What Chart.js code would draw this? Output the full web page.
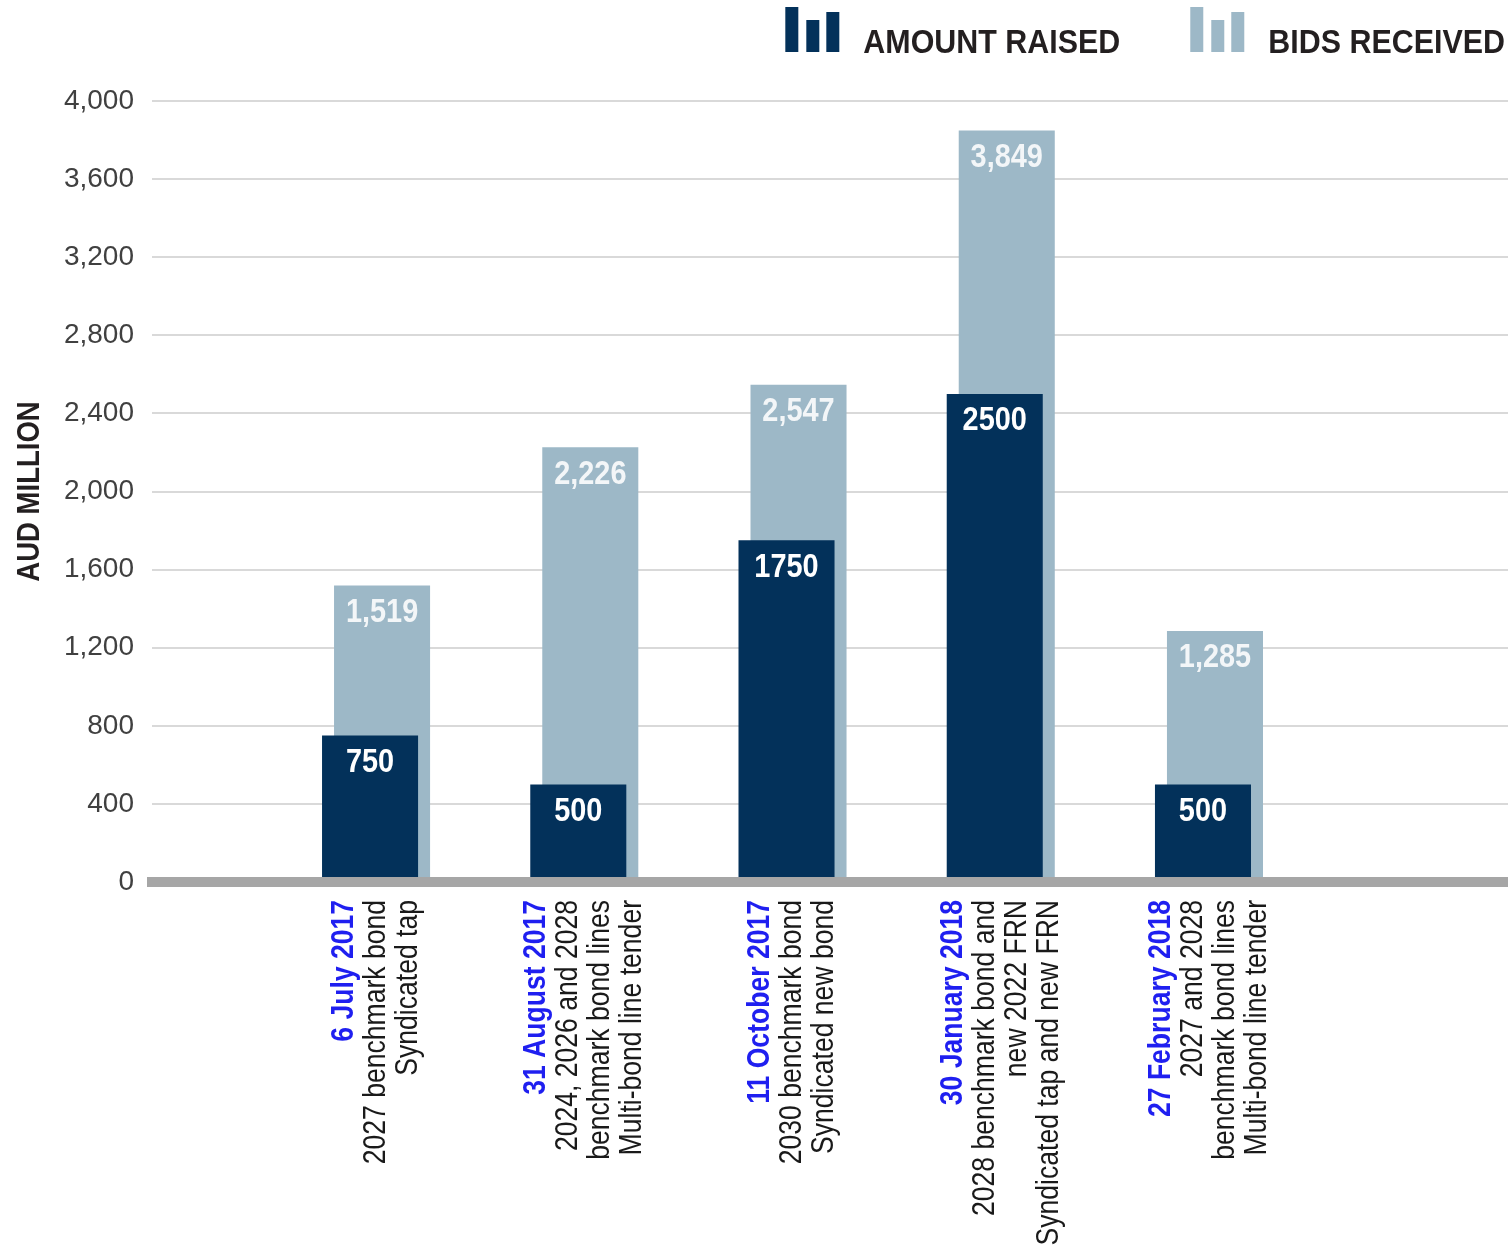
<!DOCTYPE html>
<html lang="en">
<head>
<meta charset="utf-8">
<title>Syndicated and tender issuance – amount raised and bids received</title>
<script src="https://cdn.jsdelivr.net/npm/chart.js@4.4.1/dist/chart.umd.min.js"></script>
<style>
  html, body { margin: 0; padding: 0; background: #ffffff; }
  #wrap { width: 1508px; height: 1245px; }
</style>
</head>
<body>
<div id="wrap"><canvas id="issuance" width="1508" height="1245"></canvas></div>
<script>
// Transactions: issue date and description lines
const issueDates = ['6 July 2017', '31 August 2017', '11 October 2017', '30 January 2018', '27 February 2018'];
const issueDescriptions = [
  ['2027 benchmark bond', 'Syndicated tap'],
  ['2024, 2026 and 2028', 'benchmark bond lines', 'Multi-bond line tender'],
  ['2030 benchmark bond', 'Syndicated new bond'],
  ['2028 benchmark bond and', 'new 2022 FRN', 'Syndicated tap and new FRN'],
  ['2027 and 2028', 'benchmark bond lines', 'Multi-bond line tender']
];

// AUD million
const amountRaised = [750, 500, 1750, 2500, 500];
const bidsReceived = [1519, 2226, 2547, 3849, 1285];

// Value axis
const yMax = 4000;
const yTickStep = 400;
const yTitle = 'AUD MILLION';

const SANS = '"Liberation Sans", Arial, sans-serif';
const DARK = '#03315a';
const LIGHT = '#9db8c7';

// Narrow lettering: regular sans squeezed horizontally along the text direction
function condensedText(ctx, text, x, y, sx) {
  ctx.save();
  ctx.translate(x, y);
  ctx.scale(sx, 1);
  ctx.fillText(text, 0, 0);
  ctx.restore();
}

// Value printed inside the top of each bar
const barValueLabels = {
  id: 'barValueLabels',
  afterDatasetsDraw(chart) {
    const { ctx } = chart;
    chart.data.datasets.forEach((ds, di) => {
      const meta = chart.getDatasetMeta(di);
      meta.data.forEach((bar, i) => {
        const v = ds.data[i].y;
        const text = ds.groupDigits ? v.toLocaleString('en-US') : String(v);
        ctx.save();
        ctx.font = 'bold 34px ' + SANS;
        ctx.fillStyle = ds.valueColor;
        ctx.textAlign = 'center';
        ctx.textBaseline = 'middle';
        condensedText(ctx, text, bar.x, bar.y + 27, 0.85);
        ctx.restore();
      });
    });
  }
};

// Rotated category labels: blue date line followed by the description lines
const issueLabels = {
  id: 'issueLabels',
  afterDraw(chart) {
    const { ctx, chartArea } = chart;
    const x = chart.scales.x;
    const lineStep = 32;
    const topY = chartArea.bottom + 18;
    issueDates.forEach((date, i) => {
      const lines = [date, ...issueDescriptions[i]];
      const cx = x.getPixelForValue(i);
      ctx.save();
      ctx.translate(cx, topY);
      ctx.rotate(-Math.PI / 2);
      ctx.textAlign = 'right';
      ctx.textBaseline = 'middle';
      lines.forEach((line, j) => {
        const isDate = j === 0;
        ctx.font = (isDate ? 'bold ' : '') + '32px ' + SANS;
        ctx.fillStyle = isDate ? '#1f1ff0' : '#1a1a1a';
        condensedText(ctx, line, 0, (j - (lines.length - 1) / 2) * lineStep, 0.83);
      });
      ctx.restore();
    });
  }
};

// Rotated value-axis title
const valueAxisTitle = {
  id: 'valueAxisTitle',
  afterDraw(chart) {
    const { ctx, chartArea } = chart;
    ctx.save();
    ctx.translate(30, (chartArea.top + chartArea.bottom) / 2);
    ctx.rotate(-Math.PI / 2);
    ctx.font = 'bold 32px ' + SANS;
    ctx.fillStyle = '#231f20';
    ctx.textAlign = 'center';
    ctx.textBaseline = 'middle';
    condensedText(ctx, yTitle, 0, 0, 0.86);
    ctx.restore();
  }
};

// Legend with a small three-bar icon per series, right aligned at the top
const iconLegend = {
  id: 'iconLegend',
  afterDraw(chart) {
    const { ctx } = chart;
    const sx = 0.895;
    const iconW = 55, iconGap = 23, itemGap = 70, baseY = 53;
    const right = chart.width - 3;
    const bars = [[0, 45], [21, 32], [41, 40]];
    ctx.save();
    ctx.font = 'bold 34px ' + SANS;
    const items = chart.data.datasets.map(ds => ({
      label: ds.label,
      color: ds.backgroundColor,
      w: ctx.measureText(ds.label).width * sx
    }));
    let x = right - items.reduce((s, it) => s + iconW + iconGap + it.w, 0) - itemGap * (items.length - 1);
    items.forEach(it => {
      ctx.fillStyle = it.color;
      bars.forEach(([dx, h]) => ctx.fillRect(x + dx, baseY - 1 - h, 13, h));
      ctx.fillStyle = '#231f20';
      ctx.textAlign = 'left';
      ctx.textBaseline = 'alphabetic';
      condensedText(ctx, it.label, x + iconW + iconGap, baseY, sx);
      x += iconW + iconGap + it.w + itemGap;
    });
    ctx.restore();
  }
};

new Chart(document.getElementById('issuance'), {
  type: 'bar',
  data: {
    datasets: [
      {
        label: 'AMOUNT RAISED',
        data: amountRaised.map((y, i) => ({ x: i, y })),
        backgroundColor: DARK,
        categoryPercentage: 0.1153,
        barPercentage: 8,
        valueColor: '#ffffff',
        groupDigits: false
      },
      {
        label: 'BIDS RECEIVED',
        data: bidsReceived.map((y, i) => ({ x: i, y })),
        backgroundColor: LIGHT,
        categoryPercentage: 0.1153,
        barPercentage: 8,
        valueColor: '#f3f6f8',
        groupDigits: true
      }
    ]
  },
  options: {
    responsive: false,
    animation: false,
    layout: { padding: { top: 101, right: 0, bottom: 363, left: 0 } },
    plugins: {
      legend: { display: false },
      tooltip: { enabled: false }
    },
    scales: {
      x: {
        type: 'linear',
        min: -1.076,
        max: 5.436,
        offset: false,
        afterBuildTicks: s => { s.ticks = issueDates.map((_, i) => ({ value: i })); },
        grid: { display: false, drawTicks: false },
        ticks: { display: false },
        border: { display: true, color: '#a6a6a6', width: 10, z: 1 }
      },
      y: {
        min: 0,
        max: yMax,
        ticks: {
          stepSize: yTickStep,
          padding: 18,
          color: '#404040',
          font: { family: SANS, size: 28 },
          callback: v => v.toLocaleString('en-US')
        },
        grid: { color: '#d9d9d9', lineWidth: 2, drawTicks: false },
        border: { display: false },
        afterFit: s => { s.width = 152; }
      }
    }
  },
  plugins: [barValueLabels, issueLabels, valueAxisTitle, iconLegend]
});
</script>
</body>
</html>
